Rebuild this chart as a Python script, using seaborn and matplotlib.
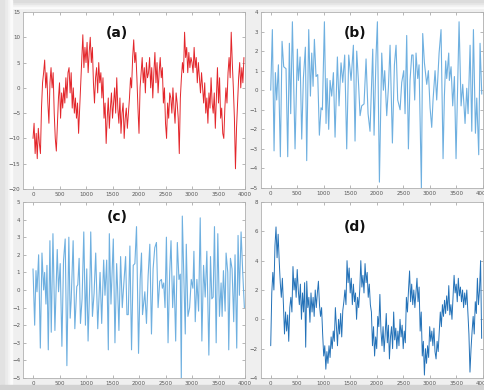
import numpy as np
import pandas as pd
import matplotlib
matplotlib.use("Agg")
import matplotlib.pyplot as plt
from matplotlib.patches import Rectangle
import seaborn as sns

sns.set_style("white")
plt.rcParams['font.family'] = ['DejaVu Sans']

# ---------------- data ----------------
step_a = 20
sig_a = [-10, -7, -13, -9, -14, -8, -11, -13, -4, 1,
         3, 5.5, 0, 3, -3, -7, 1, 4, 0, 3,
         -5, -10, -12.5, -7, -2, 1, -6, -1, -4, 0,
         -3, 2, -2, 3, 4, -1, 3, -4, 0, -5,
         -2, -6, -3, -9, -4, 1, 6, 10.5, 4, 8,
         5, 9, 3, 7, 10, 5, 8, 1, -3, 2,
         4, -1, 5, 1, 3, -2, 2, -6, -3, -11,
         -6, -2, -8, -4, -1, -6, -3, 0, -5, 2,
         -4, -7, -2, -9, -5, -3, -10, -6, -4, -8,
         -5, -2, 2, 0, 6, 9.5, 5, 7, 2, -4,
         -9, 0, 3, 6, 1, 4, -1, 5, 2, 3,
         6, 0, 4, -2, 3, 7, 1, 5, -1, 3,
         6, 2, 4, -3, 0, -7, -10, -3, -6, -1,
         -2, -5, 0, -4, -7, -1, -3, -6, -13, -2,
         2, 5, 3, 11, 6, 8, 3, 7, 4, 6,
         5, 3, 8, 4, 6, 1, 5, 2, -1, 3,
         0, -3, 1, -5, -2, -7, -1, -4, 2, -3,
         -5, -1, -8, -2, 4, -3, 2, -6, -4, -9,
         -10, -4, 0, -3, 3, 6, 2, 11, 5, 0,
         -6, -16, -8, -3, 2, 5, 0, 4, 1, 6]

t_b = [0, 31, 63, 88, 113, 145, 182, 214, 245, 289, 321, 352, 377, 409, 459, 503,
       522, 554, 585, 616, 654, 679, 717, 749, 774, 799, 824, 855, 887, 918, 950,
       975, 1013, 1044, 1063, 1094, 1120, 1151, 1183, 1214, 1258, 1289, 1327, 1359,
       1396, 1434, 1472, 1516, 1560, 1591, 1623, 1654, 1686, 1717, 1761, 1799, 1837,
       1874, 1925, 1950, 1988, 2013, 2051, 2095, 2126, 2151, 2189, 2220, 2252, 2296,
       2334, 2365, 2396, 2441, 2472, 2510, 2535, 2566, 2598, 2629, 2661, 2686, 2717,
       2742, 2774, 2799, 2843, 2868, 2900, 2944, 2975, 3007, 3038, 3063, 3101, 3132,
       3177, 3214, 3252, 3277, 3302, 3321, 3359, 3371, 3403, 3434, 3466, 3497, 3554,
       3592, 3623, 3667, 3699, 3724, 3762, 3794, 3825, 3863, 3888, 3925, 3950, 3982]
sig_b = [0, 3.1, -3.1, 0.9, -0.5, 1.3, -3.4, 2.5, 1.2, 1.1, -3.4, 2.4, -1.2, 3.5, -3, 2.1,
         0.5, 1.7, -2.5, 0.6, 2.2, -3.6, 3.1, -0.3, 1.9, 0.2, 2.6, 0.7, 0.8, -2.3, -0.9,
         -1, 3.5, -1.7, 0.6, -2, 0.5, -0.3, 0.9, -2.4, 1.7, -0.8, 1.4, 0.4,
         1.8, -3, 1.8, 0.5, 2.3, -2.6, 2, 0.5, -1.3, -0.8, -0.7, 1.6, -1.2,
         -2.1, 2.1, -2.3, 1.8, 3.5, -4.7, 1.9, 0, 1, -1.3, 0.1, 2.3, -2.7,
         1.3, 2.3, -0.5, -1, 0.4, 1, -1.2, 2.8, -3, 0.5, 1.8, 1.8, -0.5,
         1.9, 0.6, 1.3, -5, 2.9, 1.4, 0.3, 1, -0.9, -1.9, -0.5, 1, -0.5,
         1.9, 3.1, -3.5, -0.3, 1.5, 0.6, 1.9, 0.5, 1.2, -0.8, 0.7, -3.5, 3.5,
         -0.8, 0.3, -1.7, 0.1, -1.2, 2.3, -2.1, 3.1, -2.2, -0.4, -3.3, 2.4, -0.2]

t_c = [0, 31, 56, 75, 106, 138, 169, 200, 219, 244, 263, 288, 319, 344, 376, 413,
       457, 482, 513, 545, 576, 607, 639, 676, 701, 720, 757, 789, 826, 845, 870,
       895, 926, 958, 989, 1014, 1039, 1077, 1089, 1121, 1152, 1183, 1221, 1265,
       1296, 1333, 1358, 1390, 1421, 1440, 1471, 1515, 1546, 1578, 1596, 1621,
       1653, 1684, 1715, 1747, 1772, 1797, 1828, 1859, 1891, 1922, 1953, 1991,
       2022, 2047, 2066, 2110, 2141, 2172, 2204, 2235, 2266, 2297, 2329, 2360,
       2391, 2423, 2441, 2466, 2491, 2517, 2548, 2579, 2604, 2635, 2661, 2692,
       2723, 2754, 2779, 2798, 2817, 2848, 2873, 2892, 2923, 2955, 2986, 3017,
       3036, 3061, 3092, 3124, 3155, 3186, 3218, 3249, 3280, 3318, 3349, 3374,
       3399, 3424, 3456, 3487, 3518, 3549, 3568, 3593, 3625, 3643, 3675, 3693,
       3725, 3756, 3787, 3812, 3844, 3869, 3894, 3926, 3957, 3988]
sig_c = [1.2, -2, 1.1, -0.1, 2, -3.3, 2.1, 0, 1, -0.8, 1.4, -3.4, 2.8, -2.4, 3.2, -2.3,
         2.3, -0.1, 1.5, -3.2, 1.7, 2.9, -4.3, 3, -1.6, -0.6, 2.8, -2.2, 0.2, 0.3, 1.8,
         -1.9, -0.5, 3.3, -2, 1.2, -2.9, 1, 3.3, -1.5, -0.2, 2.1, -2.2, 1,
         -1.9, 1.7, -0.3, 1.7, -3.4, 3.2, -0.8, 2.9, -3, 1.5, 0.1, -2.3,
         1.9, -1, 0.4, 1.9, -1.4, -1.4, 2.5, -3.4, 1.4, 1.5, 3.6, -3.6,
         0.6, 2.1, -1.4, -0.1, -1.9, 0.8, 2.6, -2.5, 1.2, 2.4, 2.7, -1,
         0.5, 0.6, 0.1, 0.4, -1, 3, -3, 1, 2.8, -1, 0.8, -2.9,
         2.7, 0.6, 0.9, -5, 4.2, 0.4, -2.5, 2.6, -1.5, -1, 0.6, 0.1,
         2.2, -1.8, 0.6, -1.2, 4.1, -2.9, 1.4, -0.4, 2.2, -3.7, 1.9, -0.5,
         -0.4, 3.6, -3, 3.2, -1.5, 0.4, -1.5, 1.1, -1.2, 2.1, 1, -3.4,
         1.8, 1.2, -1.8, 2, -3.3, 3.1, -0.3, 3.3, 1, -1]

step_d = 20
sig_d = [-1.8, 1.8, 3.2, 2, 5, 6.3, 4.2, 5.8, 4, 2.5,
         1.5, 2.8, 1, -1, 0.5, -0.8, 0.3, -1.5, 0.8, 1.5,
         0.5, 3.6, 2, 2.8, 1.5, 3.4, 2, 1, 2.4, 0,
         1.8, 0.5, 2.5, -1.9, 2.6, 0.8, 1.5, -0.2, 1.8, 0.5,
         1.5, 0.2, 2, 0.8, 1.8, 2.6, 1, 0.2, 0.8, -1,
         -2.5, -1.8, -3.4, -2.2, -3, -1.8, -2.6, -1.2, -2, -0.8,
         -1.5, 0.8, -0.5, -1.8, 0, -1, 0.4, -1.2, 0.6, 1.2,
         2, 1, 4, 2.5, 3.5, 1.8, 2.8, 1, 2.4, 1.2,
         1.8, 0, 1.5, 0.8, 2, 4, 2.2, 3, 1.8, 3.8,
         2.5, 3.2, 1.5, 2.4, 1, 0.5, -1.8, -0.5, -2.5, -1.2,
         -2, 0.2, -0.5, 1.7, -0.8, -1.8, -0.5, -2.2, -1, 0.4,
         -1.6, -0.4, -2.7, -1.2, -0.5, -2, 0.5, -1.4, -0.6, -2,
         -0.8, -1.8, 0, -1.2, -0.4, -2, -0.8, -1.6, 1.5, 0.5,
         2, 3.3, 1.2, 2.4, 1, 2, 0.8, 1.8, 2.8, 1.2,
         2.2, -0.8, 0.5, -2.5, -1.5, -3.8, -2, -3, -1.8, -2.6,
         -0.5, -1.5, -0.8, -1.8, -0.6, -2.2, -2.7, -1.5, -2.2, -0.8,
         0.5, -0.5, 1, 0.2, 1.3, 0.4, 1.6, 0.6, 2.3, 0.3,
         1, 0, 1.5, 3, 1.8, 2.4, 1.2, 2.8, 1.6, 2.2,
         1.2, 2, 0.8, 1.8, 1, 2, 0.5, -1, -3.6, -2,
         -0.8, 0.2, -1, 1.2, 0.4, 2.8, 1, 2, 4, -1.3]

t_a = np.arange(len(sig_a)) * step_a
t_d = np.arange(len(sig_d)) * step_d

panel_labels = ["(a)", "(b)", "(c)", "(d)"]
x_ticks = [0, 500, 1000, 1500, 2000, 2500, 3000, 3500, 4000]
y_ticks_a = [-20, -15, -10, -5, 0, 5, 10, 15]
y_ticks_b = [-5, -4, -3, -2, -1, 0, 1, 2, 3, 4]
y_ticks_c = [-5, -4, -3, -2, -1, 0, 1, 2, 3, 4, 5]
y_ticks_d = [-4, -2, 0, 2, 4, 6, 8]

# ---------------- figure ----------------
W, H = 485, 390
fig = plt.figure(figsize=(W / 100, H / 100), dpi=100, facecolor="#efefef")

# soft drop shadows of the screenshot
for i, c in enumerate(["#fbfbfb", "#f2f2f2", "#e6e6e6", "#dcdcdc"]):
    fig.add_artist(Rectangle((0, 1 - (8 - 2 * i) / H), 1, (8 - 2 * i) / H,
                             transform=fig.transFigure, color=c, zorder=0))
for i, c in enumerate(["#fbfbfb", "#f4f4f4", "#ebebeb", "#e2e2e2"]):
    fig.add_artist(Rectangle((0, 0), (12 - 2.5 * i) / W, 1,
                             transform=fig.transFigure, color=c, zorder=0))
fig.add_artist(Rectangle((0, 0), 1, 5 / H, transform=fig.transFigure,
                         color="#d2d2d2", zorder=0))


def make_ax(left_px, top_px, bottom_px):
    w = 222
    return fig.add_axes([left_px / W, 1 - bottom_px / H, w / W, (bottom_px - top_px) / H])


ax_a = make_ax(23, 12, 189)
ax_b = make_ax(260.7, 12, 188)
ax_c = make_ax(23, 202, 378)
ax_d = make_ax(260.7, 202, 378)

df_a = pd.DataFrame({"t": t_a, "v": sig_a})
df_b = pd.DataFrame({"t": t_b, "v": sig_b})
df_c = pd.DataFrame({"t": t_c, "v": sig_c})
df_d = pd.DataFrame({"t": t_d, "v": sig_d})

sns.lineplot(data=df_a, x="t", y="v", ax=ax_a, color="#e3262b", linewidth=0.7, estimator=None)
sns.lineplot(data=df_b, x="t", y="v", ax=ax_b, color="#6fb0e0", linewidth=0.8, estimator=None)
sns.lineplot(data=df_c, x="t", y="v", ax=ax_c, color="#6fb0e0", linewidth=0.8, estimator=None)
sns.lineplot(data=df_d, x="t", y="v", ax=ax_d, color="#2472b8", linewidth=0.7, estimator=None)

specs = [
    (ax_a, (-20, 15), y_ticks_a, (0.423, 0.881)),
    (ax_b, (-5, 4), y_ticks_b, (0.425, 0.881)),
    (ax_c, (-5, 5), y_ticks_c, (0.423, 0.916)),
    (ax_d, (-4, 8), y_ticks_d, (0.425, 0.86)),
]
for (ax, ylim, yt, lpos), lab in zip(specs, panel_labels):
    ax.set_facecolor("white")
    ax.set_xlim(-189, 4000)
    ax.set_ylim(*ylim)
    ax.set_xticks(x_ticks)
    ax.set_yticks(yt)
    ax.set_xlabel("")
    ax.set_ylabel("")
    ax.tick_params(axis="both", direction="in", length=2, width=0.5, colors="#9a9a9a",
                   labelsize=4, labelcolor="#555555", pad=2,
                   top=True, right=True, bottom=True, left=True)
    for s in ax.spines.values():
        s.set_visible(True)
        s.set_color("#b0b0b0")
        s.set_linewidth(0.6)
    ax.text(lpos[0], lpos[1], lab, transform=ax.transAxes, ha="center", va="center",
            fontsize=10, fontweight="bold", color="#111111")

fig.savefig("out.png", dpi=100, facecolor=fig.get_facecolor())
